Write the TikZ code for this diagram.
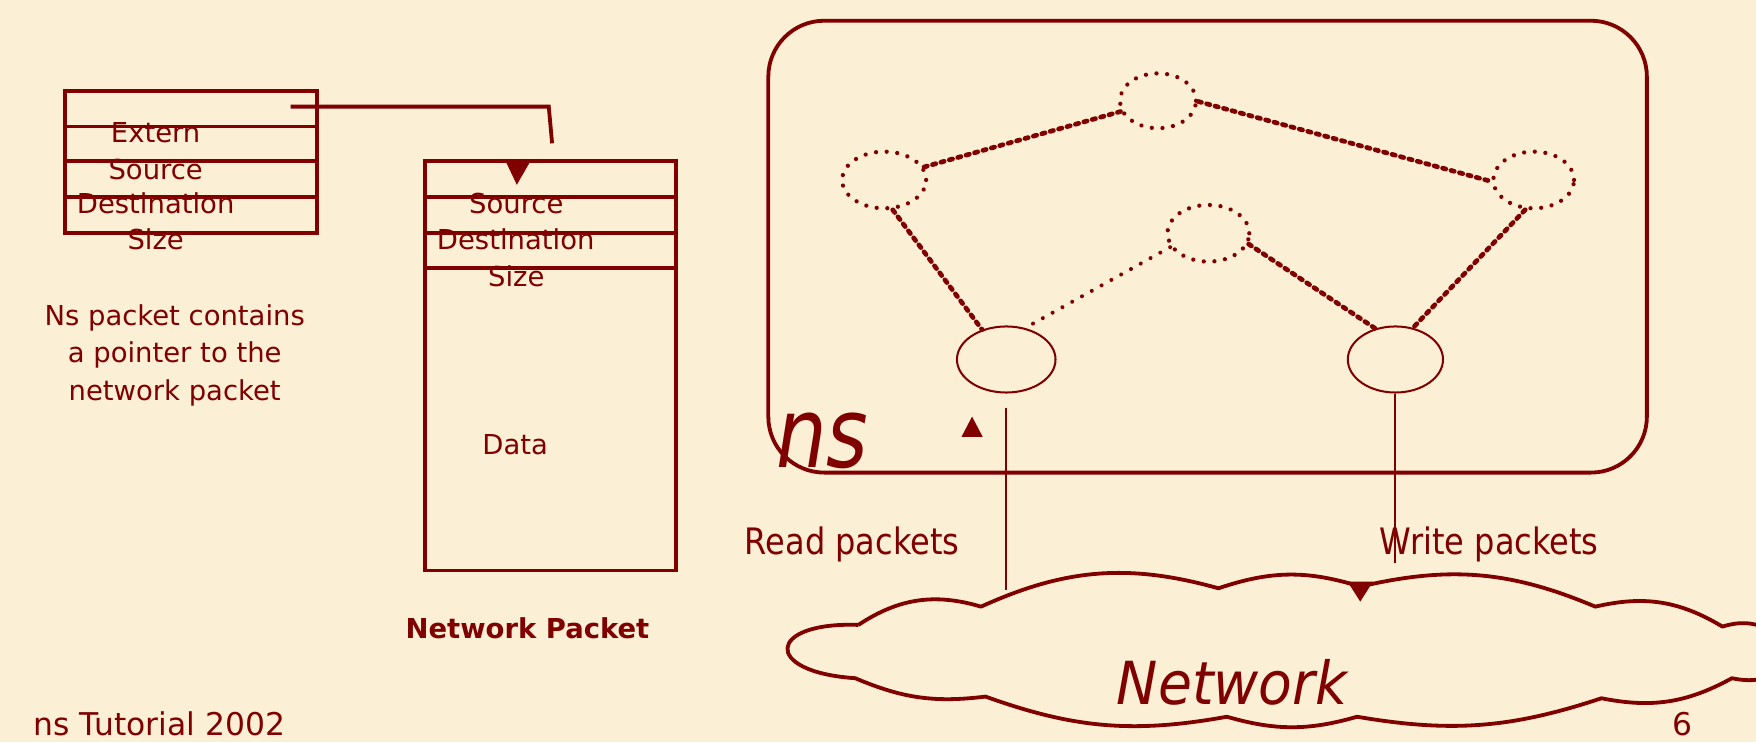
\documentclass[tikz,border=0pt]{standalone}
\usepackage{fontspec}
\setmainfont{DejaVu Sans}
\newfontfamily\labfont[FakeStretch=0.88]{DejaVu Sans}
\newfontfamily\nsfont[FakeStretch=0.82]{DejaVu Sans}
\newfontfamily\netfont[FakeStretch=0.93]{DejaVu Sans}
\usetikzlibrary{shapes.geometric}
\definecolor{ink}{HTML}{800000}
\definecolor{paper}{HTML}{FBEFD6}
\tikzset{
  pbox/.style={draw=ink, line width=3.4, inner sep=0},
  rowline/.style={draw=ink, line width=3.4},
  txt/.style={text=ink, inner sep=0, font=\fontsize{24.5}{33.5}\selectfont},
  lab/.style={text=ink, inner sep=0, font=\labfont\fontsize{32.5}{36}\selectfont},
  router/.style={ellipse, draw=ink, line width=3.8, dash pattern=on 0.01pt off 9.5pt, line cap=round, inner sep=0, minimum height=50.6},
  host/.style={ellipse, draw=ink, line width=1.8, inner sep=0, minimum height=59},
  link/.style={draw=ink, line width=4.2, dash pattern=on 3pt off 4.8pt, line cap=round},
  dotlink/.style={draw=ink, line width=3.6, dash pattern=on 0.01pt off 10pt, line cap=round},
  thinline/.style={draw=ink, line width=1.8},
  cloudline/.style={draw=ink, line width=3.4, line join=round},
  tip/.style={fill=ink}
}
\begin{document}
\begin{tikzpicture}[x=1pt,y=-1pt]
\useasboundingbox (0,0) rectangle (1568,663);
\fill[paper] (0,0) rectangle (1568,663);

% ns packet (left box)
\node[pbox, minimum width=225, minimum height=126.7] (nspkt) at (170.5,144.4) {};
\draw[rowline] (58,113) -- (283,113);
\draw[rowline] (58,143.5) -- (283,143.5);
\draw[rowline] (58,175.6) -- (283,175.6);
\node[txt, anchor=base] (l1) at (139,127.4) {Extern};
\node[txt, anchor=base] (l2) at (139,160) {Source};
\node[txt, anchor=base] (l3) at (139,191) {Destination};
\node[txt, anchor=base] (l4) at (139,222.6) {Size};

% network packet (right box)
\node[pbox, minimum width=224.1, minimum height=365.7] (netpkt) at (491.55,326.65) {};
\draw[rowline] (379.5,175.6) -- (603.6,175.6);
\draw[rowline] (379.5,207.7) -- (603.6,207.7);
\draw[rowline] (379.5,239.6) -- (603.6,239.6);
\node[txt, anchor=base] (r1) at (461,191) {Source};
\node[txt, anchor=base] (r2) at (460.5,223) {Destination};
\node[txt, anchor=base] (r3) at (461,255.4) {Size};
\node[txt, anchor=base] (r4) at (460,405.4) {Data};
\node[txt, anchor=base, font=\bfseries\fontsize{24.5}{30}\selectfont] (npcap) at (471,570) {Network Packet};

% pointer
\coordinate (ptrA) at (259.6,95.2);
\coordinate (ptrB) at (493,128);
\draw[rowline] (ptrA) -- (490,95.2) -- (ptrB);
\fill[tip] (452,145) -- (473,145) -- (461.5,165) -- cycle;

\node[txt, align=center] (note) at (156,317) {Ns packet contains\\a pointer to the\\network packet};

% ns box
\node[draw=ink, line width=3.4, rounded corners=50, minimum width=784.5, minimum height=403.5, inner sep=0] (nsbox) at (1078.3,220.25) {};
\node[text=ink, inner sep=0, anchor=base west, font=\nsfont\itshape\fontsize{87}{90}\selectfont] (nslab) at (693,417) {ns};

% routers and hosts
\node[router, minimum width=68, minimum height=49] (rtop) at (1034,90) {};
\node[router, minimum width=75] (rleft) at (789.5,160.7) {};
\node[router, minimum width=72] (rright) at (1369.5,160.7) {};
\node[router, minimum width=73] (rmid) at (1079,208.3) {};
\node[host, minimum width=88] (hleft) at (898.5,321) {};
\node[host, minimum width=85] (hright) at (1246,321) {};

\draw[link] (rleft.18.7) -- (rtop.196.5);
\draw[link] (rtop.359) -- (rright.182.3);
\draw[link] (rleft.286.2) -- (hleft.129.1);
\draw[dotlink] (rmid.200.2) -- (hleft.59);
\draw[link] (rmid.345.8) -- (hright.123);
\draw[link] (rright.254.5) -- (hright.61.4);

% read / write
\coordinate (readtop) at (898,364);
\coordinate (readbot) at (898,527);
\coordinate (writebot) at (1246,503);
\draw[thinline] (readtop) -- (readbot);
\draw[thinline] (hright.south) -- (writebot);
\fill[tip] (858.6,390) -- (877.4,390) -- (868,372) -- cycle;
\fill[tip] (1203.3,519.4) -- (1225.9,519.4) -- (1214.6,537.2) -- cycle;
\node[lab, anchor=base west] (readlab) at (665,495.5) {Read packets};
\node[lab, anchor=base west] (writelab) at (1232,495.5) {Write packets};

% cloud
\draw[cloudline] (766.5,558) to[bend left=25] (876,541.7) to[bend left=20] (1088,525.3)
  to[bend left=18] (1214.6,523.8) to[bend left=18] (1424.5,541.7) to[bend left=22] (1538,559.5)
  .. controls (1600,540) and (1615,620) .. (1546.5,605.6)
  to[bend left=20] (1430,623.5) to[bend left=14] (1211.8,640) to[bend left=16] (1095.5,640)
  to[bend left=15] (880,622) to[bend left=15] (763.7,605.6)
  .. controls (680,600) and (685,555) .. (766.5,558);
\node[text=ink, inner sep=0, anchor=base west, font=\netfont\itshape\fontsize{53}{56}\selectfont] (netlab) at (997,629.5) {Network};

% footer
\node[text=ink, inner sep=0, anchor=base west, font=\fontsize{28}{32}\selectfont] (footer) at (30,657) {ns Tutorial 2002};
\node[text=ink, inner sep=0, anchor=base, font=\fontsize{28}{32}\selectfont] (pageno) at (1502,657) {6};
\end{tikzpicture}
\end{document}
